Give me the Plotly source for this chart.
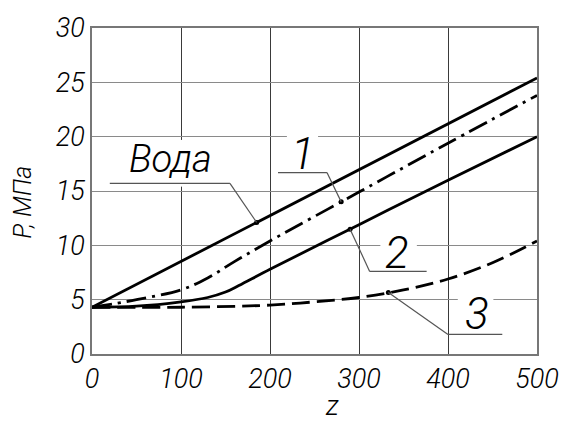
import numpy as np
import plotly.graph_objects as go

# Pressure P (MPa) along the coordinate z
z_water = [0, 500]
p_water = [4.3, 25.4]

z_c1 = [0, 50, 100, 130, 160, 200, 300, 400, 500]
p_c1 = [4.3, 5.0, 5.9, 7.0, 8.5, 10.4, 14.9, 19.4, 23.8]

z_c2 = [0, 50, 100, 130, 150, 165, 200, 300, 400, 500]
p_c2 = [4.3, 4.4, 4.8, 5.2, 5.7, 6.3, 7.8, 11.9, 16.0, 20.0]

z_c3 = [0, 100, 200, 250, 300, 350, 400, 450, 500]
p_c3 = [4.3, 4.3, 4.5, 4.8, 5.2, 5.9, 6.9, 8.4, 10.4]

x_ticks = [0, 100, 200, 300, 400, 500]
y_ticks = [0, 5, 10, 15, 20, 25, 30]

FONT = "Roboto"
W, H, L, R, T, B = 571, 421, 92, 34, 18, 67


def ifont(size):
    return dict(family=FONT, size=size, color="black", style="italic", weight=300)


fig = go.Figure()

line_style = dict(color="black", width=2.8)
fig.add_trace(go.Scatter(x=z_water, y=p_water, mode="lines", line=line_style))
fig.add_trace(go.Scatter(x=z_c1, y=p_c1, mode="lines", line_shape="spline",
                         line=dict(color="black", width=2.8, dash="20px,6px,3px,6px")))
fig.add_trace(go.Scatter(x=z_c2, y=p_c2, mode="lines", line_shape="spline", line=line_style))
fig.add_trace(go.Scatter(x=z_c3, y=p_c3, mode="lines", line_shape="spline",
                         line=dict(color="black", width=2.8, dash="18px,7px")))

# Callout labels: text, text (z, P), underline z-span, underline P,
# which underline end carries the leader, target z on the curve, curve, font size
labels = [
    ("Вода", (88, 17.9), (20, 155), 15.7, "right", 185, (z_water, p_water), 38),
    ("1", (237, 18.4), (209, 264), 16.7, "right", 280, (z_c1, p_c1), 44),
    ("2", (343, 9.3), (312, 376), 7.6, "left", 290, (z_c2, p_c2), 44),
    ("3", (433, 3.7), (400, 461), 1.8, "left", 333, (z_c3, p_c3), 44),
]

thin = dict(color="#555555", width=1.2)
for text, (tx, ty), (u0, u1), uy, side, tz, (cz, cp), fs in labels:
    fig.add_annotation(x=tx, y=ty, text=text, showarrow=False, font=ifont(fs))
    fig.add_shape(type="line", x0=u0, x1=u1, y0=uy, y1=uy, line=thin, layer="above")
    sx = u1 if side == "right" else u0
    tp = float(np.interp(tz, cz, cp))
    fig.add_shape(type="line", x0=sx, y0=uy, x1=tz, y1=tp, line=thin, layer="above")
    fig.add_trace(go.Scatter(x=[tz], y=[tp], mode="markers",
                             marker=dict(color="black", size=5)))

# breaks in the grid behind the callout text
for x0, x1, y0, y1 in [(219, 254, 19.5, 20.5), (324, 365, 9.5, 10.5),
                       (411, 451, 4.5, 5.5), (95, 105, 15.4, 19.7)]:
    fig.add_shape(type="rect", x0=x0, x1=x1, y0=y0, y1=y1,
                  fillcolor="white", line=dict(width=0), layer="between")

# axis titles, placed at pixel positions through the plot-area domain
pw, ph = W - L - R, H - T - B


def dom(px, py):
    return (px - L) / pw, (H - B - py) / ph


zx, zy = dom(332, 408)
fig.add_annotation(x=zx, y=zy, xref="x domain", yref="y domain", text="z",
                   showarrow=False, xanchor="center", yanchor="middle", font=ifont(27))
px_, py_ = dom(23, 198)
fig.add_annotation(x=px_, y=py_, xref="x domain", yref="y domain", text="P, МПа",
                   showarrow=False, xanchor="center", yanchor="middle",
                   textangle=-90, font=ifont(25))

fig.update_layout(
    width=W, height=H,
    margin=dict(l=L, r=R, t=T, b=B),
    paper_bgcolor="white", plot_bgcolor="white",
    showlegend=False,
    xaxis=dict(range=[0, 500], tickvals=x_ticks, ticks="", showgrid=True,
               gridcolor="#3a3a3a", gridwidth=1, zeroline=False,
               showline=True, linecolor="#777777", linewidth=1.5, mirror=True,
               tickfont=ifont(27)),
    yaxis=dict(range=[0, 30], tickvals=y_ticks, ticks="", showgrid=True,
               gridcolor="#8a8a8a", gridwidth=1.2, zeroline=False,
               showline=True, linecolor="#777777", linewidth=1.5, mirror=True,
               tickfont=ifont(27)),
)

fig.write_html("out.html")
